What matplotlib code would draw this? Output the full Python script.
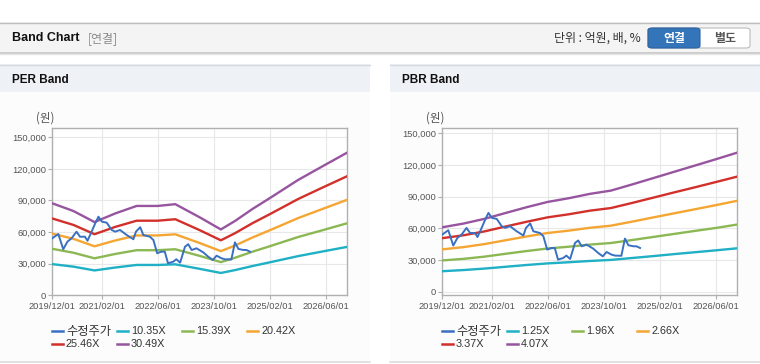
import matplotlib
matplotlib.use("Agg")
import matplotlib.pyplot as plt
from matplotlib.lines import Line2D
from matplotlib.patches import Rectangle, FancyBboxPatch
from matplotlib.ticker import FuncFormatter
import pandas as pd

# ---------------- data ----------------
price_dates = ["2019-12-01", "2020-01-22", "2020-03-05", "2020-04-10", "2020-05-16", "2020-06-28",
               "2020-07-28", "2020-09-09", "2020-10-01", "2020-11-06", "2020-12-07", "2021-01-04",
               "2021-02-03", "2021-03-17", "2021-04-29", "2021-05-29", "2021-07-10", "2021-09-06",
               "2021-11-03", "2021-11-25", "2022-01-01", "2022-01-28", "2022-03-26", "2022-04-25",
               "2022-05-28", "2022-07-03", "2022-08-02", "2022-08-30", "2022-10-14", "2022-11-10",
               "2022-12-13", "2023-01-24", "2023-02-21", "2023-03-23", "2023-05-04", "2023-07-01",
               "2023-08-13", "2023-09-22", "2023-10-25", "2023-12-07", "2024-01-06", "2024-03-01",
               "2024-04-01", "2024-05-01", "2024-06-13", "2024-07-10", "2024-08-10"]
price_values = [54100, 58200, 43700, 50900, 54100, 60400,
                55600, 55600, 51800, 60400, 68300, 74600,
                69900, 68900, 62000, 60400, 62000, 57200,
                53200, 60400, 64600, 57200, 55600, 52500,
                39900, 41400, 41400, 30400, 31900, 34200,
                31000, 46100, 48500, 43000, 44600, 40800,
                36700, 33500, 37600, 35100, 34200, 34000,
                50300, 44000, 43000, 43000, 41400]

per_dates = ["2019-12-01", "2020-06-01", "2020-12-01", "2021-06-01", "2021-12-01", "2022-06-01",
             "2022-11-01", "2023-06-01", "2023-12-01", "2024-04-01", "2024-09-01", "2025-02-01",
             "2025-10-01", "2026-05-01", "2026-12-01"]
per_labels = ["10.35X", "15.39X", "20.42X", "25.46X", "30.49X"]
per_band_1 = [29600, 27200, 23600, 26400, 28800, 28800, 29400, 25100, 21200, 23900, 27800, 31400, 37200, 41600, 46000]
per_band_2 = [44100, 40400, 35100, 39300, 42800, 42800, 43700, 37400, 31500, 35600, 41400, 46700, 55300, 61800, 68400]
per_band_3 = [58500, 53600, 46500, 52100, 56800, 56800, 57900, 49600, 41900, 47200, 54900, 61900, 73300, 82000, 90700]
per_band_4 = [72900, 66800, 58000, 65000, 70800, 70800, 72200, 61800, 52200, 58900, 68500, 77200, 91400, 102300, 113100]
per_band_5 = [87300, 80000, 69500, 77800, 84800, 84800, 86500, 74000, 62500, 70500, 82000, 92500, 109500, 122500, 135500]

pbr_dates = ["2019-12-01", "2020-06-01", "2020-12-01", "2021-06-01", "2021-12-01", "2022-06-01",
             "2022-12-01", "2023-06-01", "2023-12-01", "2024-06-01", "2024-12-01", "2025-06-01",
             "2025-12-01", "2026-06-01", "2026-12-01"]
pbr_labels = ["1.25X", "1.96X", "2.66X", "3.37X", "4.07X"]
pbr_band_1 = [19400, 20500, 21900, 23600, 25300, 26800, 27900, 29100, 30100, 31900, 33700, 35600, 37400, 39200, 41100]
pbr_band_2 = [29600, 31100, 33200, 35900, 38500, 40900, 42600, 44600, 46100, 48900, 51800, 54700, 57600, 60400, 63600]
pbr_band_3 = [40100, 42200, 45100, 48700, 52300, 55600, 57800, 60500, 62500, 66300, 70300, 74200, 78100, 82000, 86100]
pbr_band_4 = [50700, 53400, 57100, 61700, 66200, 70400, 73300, 76700, 79200, 84000, 89000, 94000, 98900, 103900, 109000]
pbr_band_5 = [61000, 64500, 69000, 74500, 80000, 85000, 88500, 92600, 95700, 101500, 107500, 113500, 119500, 125500, 131700]

price_label = "수정주가"
xtick_labels = ["2019/12/01", "2021/02/01", "2022/06/01", "2023/10/01", "2025/02/01", "2026/06/01"]
ytick_values = [0, 30000, 60000, 90000, 120000, 150000]

# ---------------- style ----------------
FONT = ["Liberation Sans", "Noto Sans CJK KR", "DejaVu Sans"]
KFONT = ["Noto Sans CJK KR", "DejaVu Sans"]
plt.rcParams["font.family"] = FONT
price_color = "#3a70c2"
band_colors = ["#1fb0c6", "#8cb854", "#f5a632", "#d2302b", "#97559f"]

W, H = 760, 364
fig = plt.figure(figsize=(W / 100, H / 100), dpi=100)
fig.patch.set_facecolor("white")


def fx(px):
    return px / W


def fy(py):
    return 1 - py / H


def rect(x0, y0, x1, y1, color, z=0):
    fig.add_artist(Rectangle((fx(x0), fy(y1)), fx(x1) - fx(x0), fy(y0) - fy(y1),
                             transform=fig.transFigure, facecolor=color, edgecolor="none", zorder=z))


def hline(x0, x1, y, color, lw=1.0, z=1):
    fig.add_artist(Line2D([fx(x0), fx(x1)], [fy(y), fy(y)], transform=fig.transFigure,
                          color=color, lw=lw, zorder=z))


# header bar
rect(0, 22, 760, 53, "#f4f4f4")
hline(0, 760, 22.5, "#bdbdbd", 1.0)
hline(0, 760, 53, "#c4c4c4", 1.2)
hline(0, 760, 54.2, "#e6e6e6", 1.0)
fig.text(fx(12), fy(38), "Band Chart", fontsize=9, fontweight="bold", color="#111111",
         va="center", ha="left", family=FONT)
fig.text(fx(88), fy(38.5), "[연결]", fontsize=8.6, color="#8a8a8a", va="center", ha="left", family=KFONT)
fig.text(fx(641), fy(38.5), "단위 : 억원, 배, %", fontsize=8.6, color="#333333", va="center", ha="right",
         family=KFONT)
# buttons
fig.add_artist(FancyBboxPatch((fx(648), fy(48)), fx(750) - fx(648), fy(28) - fy(48),
                              boxstyle="round,pad=0,rounding_size=0.006", transform=fig.transFigure,
                              facecolor="white", edgecolor="#bcbcbc", lw=0.8, zorder=2))
fig.add_artist(FancyBboxPatch((fx(648), fy(48)), fx(700) - fx(648), fy(28) - fy(48),
                              boxstyle="round,pad=0,rounding_size=0.006", transform=fig.transFigure,
                              facecolor="#3474b8", edgecolor="#2c64a0", lw=0.8, zorder=3))
fig.text(fx(674), fy(38.5), "연결", fontsize=8.6, fontweight="bold", color="white", va="center",
         ha="center", family=KFONT, zorder=4)
fig.text(fx(725), fy(38.5), "별도", fontsize=8.6, fontweight="bold", color="#555555", va="center",
         ha="center", family=KFONT, zorder=4)

# panels
for (px0, px1, title) in [(0, 370, "PER Band"), (390, 760, "PBR Band")]:
    rect(px0, 64, px1, 92, "#eef2f7")
    rect(px0, 92, px1, 362, "#fcfcfc")
    hline(px0, px1, 64.5, "#d6d9de", 1.0)
    hline(px0, px1, 362, "#dcdcdc", 1.2)
    fig.text(fx(px0 + 12), fy(80), title, fontsize=8.5, fontweight="bold", color="#111111",
             va="center", ha="left", family=FONT)


def make_axes(left_px, ylim, dates_b, bands, labels):
    ax = fig.add_axes([fx(left_px), fy(295.3), 295 / W, (295.3 - 128.3) / H])
    ax.set_facecolor("#ffffff")
    pdates = pd.to_datetime(price_dates)
    bdates = pd.to_datetime(dates_b)
    for vals, col in zip(bands, band_colors):
        ax.plot(bdates, vals, color=col, lw=1.7, solid_capstyle="round", zorder=3)
    ax.plot(pdates, price_values, color=price_color, lw=1.4, zorder=4)
    ax.set_xlim(pd.Timestamp("2019-12-01"), pd.Timestamp("2026-12-01"))
    ax.set_ylim(*ylim)
    xt = pd.to_datetime([s.replace("/", "-") for s in xtick_labels])
    ax.set_xticks(xt)
    ax.set_xticklabels(xtick_labels)
    ax.set_yticks(ytick_values)
    ax.yaxis.set_major_formatter(FuncFormatter(lambda v, p: f"{int(v):,}"))
    ax.grid(True, color="#e8e8e8", lw=0.8, zorder=0)
    for s in ax.spines.values():
        s.set_color("#b0b0b0")
        s.set_linewidth(1.0)
    ax.tick_params(axis="both", colors="#b0b0b0", labelcolor="#555555", labelsize=6.7,
                   length=3, width=0.8, direction="out", pad=1.5)
    ax.tick_params(axis="x", pad=2)
    for t in ax.get_xticklabels() + ax.get_yticklabels():
        t.set_family(FONT)
    fig.text(fx(left_px - 16), fy(118), "(원)", fontsize=8.3, color="#555555", va="center",
             ha="left", family=KFONT)
    # legend
    items = [(price_label, price_color)] + list(zip(labels, band_colors))
    for i, (lab, col) in enumerate(items):
        row, colno = divmod(i, 4)
        x0 = left_px - 0.3 + colno * 65
        y0 = 331 + row * 12.7
        fig.add_artist(Line2D([fx(x0), fx(x0 + 11)], [fy(y0), fy(y0)], transform=fig.transFigure,
                              color=col, lw=1.8))
        if i:
            fig.text(fx(x0 + 14), fy(y0), lab, fontsize=7.8, color="#333333", va="center",
                     ha="left", family=FONT)
        else:
            fig.text(fx(x0 + 14), fy(y0), lab, fontsize=8.8, color="#333333", va="center",
                     ha="left", family=KFONT)
    return ax


make_axes(52.3, (0, 158500), per_dates,
          [per_band_1, per_band_2, per_band_3, per_band_4, per_band_5], per_labels)
make_axes(442.3, (-3400, 154700), pbr_dates,
          [pbr_band_1, pbr_band_2, pbr_band_3, pbr_band_4, pbr_band_5], pbr_labels)

fig.savefig("out.png", dpi=100, facecolor=fig.get_facecolor())
